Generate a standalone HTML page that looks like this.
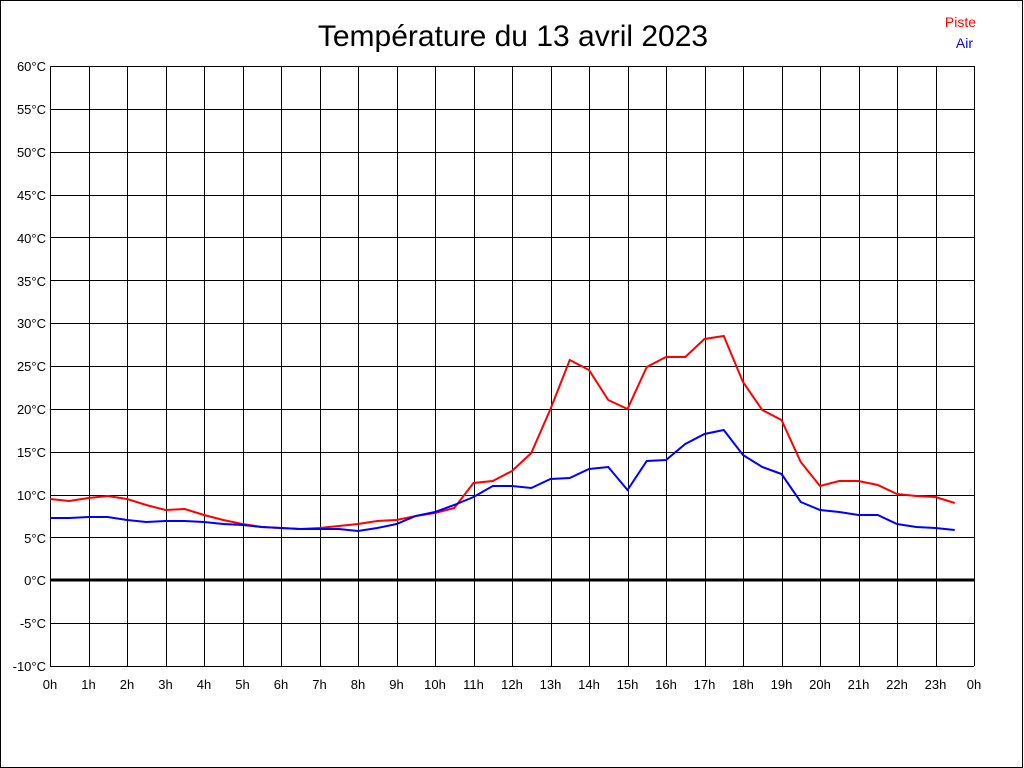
<!DOCTYPE html>
<html><head><meta charset="utf-8"><style>
html,body{margin:0;padding:0;background:#fff}
svg{display:block}
text{font-family:"Liberation Sans",Arial,sans-serif;font-size:13px}
</style></head><body>
<svg id="s" width="1024" height="768" xmlns="http://www.w3.org/2000/svg">
<rect x="0.5" y="0.5" width="1022" height="767" fill="#fff" stroke="#000"/>
<g id="grid" stroke="#000" stroke-width="1" shape-rendering="crispEdges"></g>
<line x1="50" y1="580" x2="974" y2="580" stroke="#000" stroke-width="3"/>
<polyline id="red" fill="none" stroke="#f00" stroke-width="2"/>
<polyline id="blue" fill="none" stroke="#00f" stroke-width="2"/>
<text x="513" y="46" text-anchor="middle" style="font-size:30px">Température du 13 avril 2023</text>
<text x="976" y="27" text-anchor="end" fill="#f00" style="font-size:14px">Piste</text>
<text x="973" y="48" text-anchor="end" fill="#00f" style="font-size:14px">Air</text>
<g text-anchor="end" style="font-size:14px">
<text x="46" y="71">60°C</text><text x="46" y="114">55°C</text><text x="46" y="157">50°C</text>
<text x="46" y="200">45°C</text><text x="46" y="243">40°C</text><text x="46" y="286">35°C</text>
<text x="46" y="328">30°C</text><text x="46" y="371">25°C</text><text x="46" y="414">20°C</text>
<text x="46" y="457">15°C</text><text x="46" y="500">10°C</text><text x="46" y="543">5°C</text>
<text x="46" y="585">0°C</text><text x="46" y="628">-5°C</text><text x="46" y="671">-10°C</text>
</g>
<g text-anchor="middle" style="font-size:14px">
<text x="50" y="689">0h</text><text x="88.5" y="689">1h</text><text x="127" y="689">2h</text>
<text x="165.5" y="689">3h</text><text x="204" y="689">4h</text><text x="242.5" y="689">5h</text>
<text x="281" y="689">6h</text><text x="319.5" y="689">7h</text><text x="358" y="689">8h</text>
<text x="396.5" y="689">9h</text><text x="435" y="689">10h</text><text x="473.5" y="689">11h</text>
<text x="512" y="689">12h</text><text x="550.5" y="689">13h</text><text x="589" y="689">14h</text>
<text x="627.5" y="689">15h</text><text x="666" y="689">16h</text><text x="704.5" y="689">17h</text>
<text x="743" y="689">18h</text><text x="781.5" y="689">19h</text><text x="820" y="689">20h</text>
<text x="858.5" y="689">21h</text><text x="897" y="689">22h</text><text x="935.5" y="689">23h</text>
<text x="974" y="689">0h</text>
</g>
</svg>
<script>
var g=document.getElementById('grid'),h='';
for(var i=0;i<=24;i++){var x=Math.round(50+38.5*i)+0.5;h+='<line x1="'+x+'" y1="66" x2="'+x+'" y2="666"/>';}
for(var j=0;j<=14;j++){var y=Math.round(66+600/14*j)+0.5;h+='<line x1="50" y1="'+y+'" x2="974" y2="'+y+'"/>';}
g.innerHTML=h;
var R=[499,501,498,496,499,505,510,509,515,520,524,527,528,529,528,526,524,521,520,516,513,508,483,481,471,453,409,360,370,400,409,367,357,357,339,336,382,410,420,462,486,481,481,485,494,496,497,503];
var B=[518,518,517,517,520,522,521,521,522,524,525,527,528,529,529,529,531,528,524,516,512,505,497,486,486,488,479,478,469,467,490,461,460,444,434,430,455,467,474,502,510,512,515,515,524,527,528,530];
function pts(a){return a.map(function(v,i){return (50+19.25*i).toFixed(2)+','+v}).join(' ');}
document.getElementById('red').setAttribute('points',pts(R));
document.getElementById('blue').setAttribute('points',pts(B));
</script>
</body></html>
